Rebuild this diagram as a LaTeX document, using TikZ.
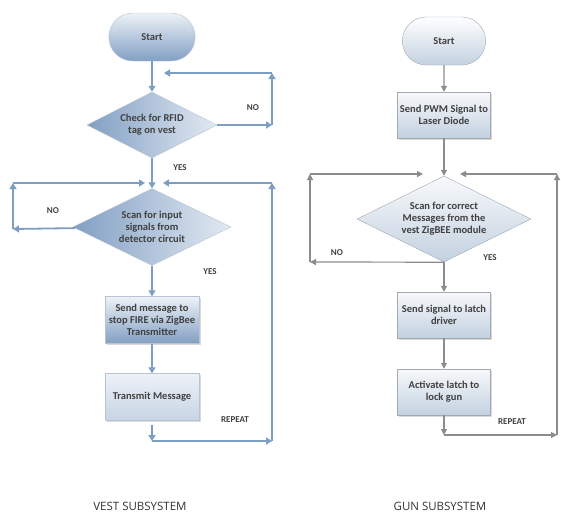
\documentclass[tikz,border=0pt]{standalone}
\usepackage{fontspec}
\setmainfont{Carlito}
\newfontfamily\capfont{Open Sans}
\usetikzlibrary{shapes.geometric,shapes.misc,arrows.meta,shadows}

\definecolor{vline}{HTML}{7D9DC1}
\definecolor{gline}{HTML}{8C8C8C}
\definecolor{txtgrey}{HTML}{404040}
\definecolor{vedge}{HTML}{B7C4D3}
\definecolor{gedge}{HTML}{A3AAB2}
\definecolor{vlight}{HTML}{EDF2F7}
\definecolor{vdark}{HTML}{819FC3}
\definecolor{vpale}{HTML}{C6D4E4}
\definecolor{glight}{HTML}{F7F9FB}
\definecolor{gdark}{HTML}{C3D1E0}

\begin{document}
\begin{tikzpicture}[x=1pt, y=-1pt,
    font=\fontsize{10.5}{12}\selectfont\bfseries, text=txtgrey,
    varrow/.style={draw=vline, line width=1.8pt, -{Triangle[width=7pt,length=6pt]}},
    garrow/.style={draw=gline, line width=1.2pt, -{Triangle[width=6pt,length=6pt]}},
    vterm/.style={rounded rectangle, draw=vedge, top color=vlight, bottom color=vdark,
        minimum width=93pt, minimum height=48pt},
    gterm/.style={rounded rectangle, draw=gedge, top color=white, bottom color=gdark,
        minimum width=90pt, minimum height=48pt},
    vdec/.style={diamond, aspect=2, inner sep=0pt, align=center, draw=vedge,
        left color=vdark, right color=vlight!90!vdark},
    gdec/.style={diamond, aspect=2, inner sep=0pt, align=center, draw=gedge,
        top color=glight, bottom color=gdark},
    vproc/.style={rectangle, draw=vedge, align=center, inner sep=2pt,
        minimum width=94pt, minimum height=47pt,
        drop shadow={shadow xshift=1.5pt, shadow yshift=-1.5pt, opacity=.3}},
    gproc/.style={rectangle, draw=gedge, align=center, inner sep=2pt,
        top color=glight, bottom color=gdark, minimum width=93pt, minimum height=46pt,
        drop shadow={shadow xshift=1.5pt, shadow yshift=-1.5pt, opacity=.3}},
    lbl/.style={font=\fontsize{9}{10}\selectfont\bfseries},
    subcap/.style={font=\capfont\fontsize{11.5}{13}\selectfont, text=black!80}
]
    \useasboundingbox (0,0) rectangle (561,512);

    % Vest subsystem
    \node[vterm] (vstart) at (152,37) {Start};
    \node[vdec, minimum width=130pt, minimum height=66pt] (vcheck) at (152,125) {Check for RFID\\tag on vest};
    \node[vdec, minimum width=158pt, minimum height=77pt] (vscan) at (152,227) {Scan for input\\signals from\\detector circuit};
    \node[vproc, top color=vlight, bottom color=vdark] (vsend) at (152,320) {Send message to\\stop FIRE via ZigBee\\Transmitter};
    \node[vproc, top color=vlight, bottom color=vpale] (vtx) at (152,397) {Transmit Message};

    % Vest loop points
    \coordinate (vnoR) at (272,125);
    \coordinate (vnoT) at (272,73);
    \coordinate (vnoL) at (164,73);
    \coordinate (vinL) at (13,183);
    \coordinate (vinLe) at (145,183);
    \coordinate (vinR) at (272,183);
    \coordinate (vinRe) at (163,183);
    \coordinate (vnoB) at (13,229);
    \coordinate (vrep) at (152,441);
    \coordinate (vrepR) at (272,441);

    % Vest connectors
    \draw[varrow] (vstart) -- (vcheck);
    \draw[varrow] (vcheck) -- (vnoR);
    \draw[varrow] (vnoR) -- (vnoT);
    \draw[varrow] (vnoT) -- (vnoL);
    \draw[varrow] (vcheck) -- (vscan);
    \draw[varrow] (vinL) -- (vinLe);
    \draw[varrow] (vinR) -- (vinRe);
    \draw[varrow] (vscan) -- (vnoB);
    \draw[varrow] (vnoB) -- (vinL);
    \draw[varrow] (vscan) -- (vsend);
    \draw[varrow] (vsend) -- (vtx);
    \draw[varrow, shorten <=4pt] (vtx) -- (vrep);
    \draw[varrow] (vrep) -- (vrepR);
    \draw[varrow] (vrepR) -- (vinR);

    \node[lbl] (vno1) at (253,108) {NO};
    \node[lbl] (vyes1) at (180,168) {YES};
    \node[lbl] (vno2) at (53,211) {NO};
    \node[lbl] (vyes2) at (210,272) {YES};
    \node[lbl] (vrepeat) at (235,420) {REPEAT};

    % Gun subsystem
    \node[gterm] (gstart) at (444,41) {Start};
    \node[gproc] (gpwm) at (444,115) {Send PWM Signal to\\Laser Diode};
    \node[gdec, minimum width=174pt, minimum height=86pt] (gscan) at (444,219) {Scan for correct\\Messages from the\\vest ZigBEE module};
    \node[gproc] (glatch) at (444,315) {Send signal to latch\\driver};
    \node[gproc] (gact) at (444,392) {Activate latch to\\lock gun};

    % Gun loop points
    \coordinate (ginL) at (310,174);
    \coordinate (ginLe) at (423,174);
    \coordinate (ginR) at (557,174);
    \coordinate (ginRe) at (460,174);
    \coordinate (gnoL) at (310,262);
    \coordinate (grep) at (444,435);
    \coordinate (grepR) at (557,435);

    % Gun connectors
    \draw[garrow] (gstart) -- (gpwm);
    \draw[garrow] (gpwm) -- (gscan);
    \draw[garrow] (ginL) -- (ginLe);
    \draw[garrow] (ginR) -- (ginRe);
    \draw[garrow] (gscan.south) -- (gnoL);
    \draw[garrow] (gnoL) -- (ginL);
    \draw[garrow] (gscan) -- (glatch);
    \draw[garrow] (glatch) -- (gact);
    \draw[garrow] (gact) -- (grep);
    \draw[garrow] (grep) -- (grepR);
    \draw[garrow] (grepR) -- (ginR);

    \node[lbl] (gno) at (337,253) {NO};
    \node[lbl] (gyes) at (490,258) {YES};
    \node[lbl] (grepeat) at (512,422) {REPEAT};

    % Captions
    \node[subcap] (vcap) at (140,506) {VEST SUBSYSTEM};
    \node[subcap] (gcap) at (440,506) {GUN SUBSYSTEM};
\end{tikzpicture}
\end{document}
